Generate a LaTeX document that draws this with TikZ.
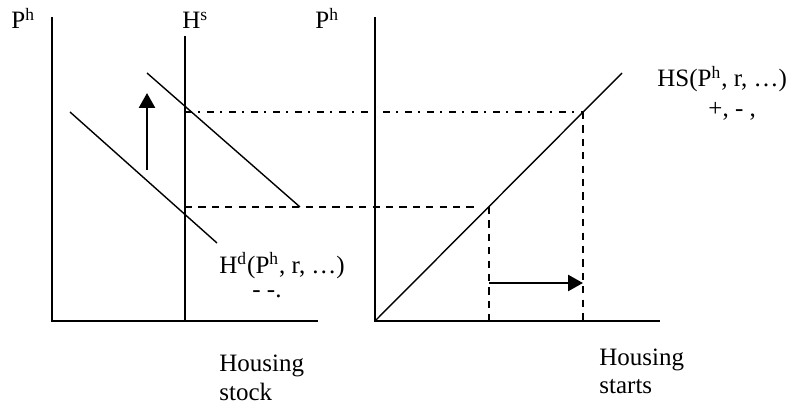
\documentclass[tikz,border=0pt]{standalone}
\usepackage{fontspec}
\setmainfont{Liberation Serif}
\usetikzlibrary{arrows.meta}
\begin{document}
\begin{tikzpicture}[x=0.5pt,y=-0.5pt,
  axis/.style={line width=1pt},
  curve/.style={line width=0.7pt},
  dashline/.style={line width=1pt, dash pattern=on 3.6pt off 3.1pt},
  dashdotline/.style={line width=0.9pt, dash pattern=on 3.5pt off 3pt on 1pt off 3.5pt},
  bigarrow/.style={line width=1.3pt, -{Triangle[width=8pt,length=7.5pt]}},
  lbl/.style={anchor=base west, inner sep=0, font=\fontsize{12.5}{15}\selectfont}]
\useasboundingbox (0,0) rectangle (786,406);
% coordinates
\coordinate (O1) at (52,321);
\coordinate (T1) at (52,17);
\coordinate (X1) at (318,321);
\coordinate (HsT) at (185,36);
\coordinate (HsB) at (185,321);
\coordinate (O2) at (375,321);
\coordinate (T2) at (375,17);
\coordinate (X2) at (660,321);
\coordinate (D1a) at (70,112);
\coordinate (D1b) at (217,243);
\coordinate (D2a) at (147,73);
\coordinate (D2b) at (300,207);
\coordinate (HSt) at (622,73);
\coordinate (E1) at (185,112);
\coordinate (E1r) at (583,112);
\coordinate (E1b) at (583,321);
\coordinate (E0) at (185,207);
\coordinate (E0e) at (476,207);
\coordinate (E0r) at (489,207);
\coordinate (E0b) at (489,321);
\coordinate (AUs) at (147,170);
\coordinate (AUe) at (147,93);
\coordinate (ARs) at (489,283);
\coordinate (ARe) at (583,283);
% axes
\draw[axis] (T1) -- (O1) -- (X1);
\draw[axis] (HsT) -- (HsB);
\draw[axis] (T2) -- (O2) -- (X2);
% demand curves
\draw[curve] (D1a) -- (D1b);
\draw[curve] (D2a) -- (D2b);
% supply of housing starts
\draw[curve] (O2) -- (HSt);
% guide lines
\draw[dashdotline] (E1) -- (E1r);
\draw[dashline] (E1r) -- (E1b);
\draw[dashline] (E0) -- (E0e);
\draw[dashline] (E0r) -- (E0b);
% arrows
\draw[bigarrow] (AUs) -- (AUe);
\draw[bigarrow] (ARs) -- (ARe);
% labels
\node[lbl] (ph1) at (11,29) {P\textsuperscript{h}};
\node[lbl] (hs) at (182,29) {H\textsuperscript{s}};
\node[lbl] (ph2) at (315,29) {P\textsuperscript{h}};
\node[lbl] (hsf) at (657,87) {HS(P\textsuperscript{h}, r, \dots)};
\node[lbl] (hssign) at (708,117) {+, - ,};
\node[lbl] (hdf) at (219,273) {H\textsuperscript{d}(P\textsuperscript{h}, r, \dots)};
\node[lbl] (hdsign) at (252,297) {- -.};
\node[lbl] (hstock1) at (219,371) {Housing};
\node[lbl] (hstock2) at (219,400) {stock};
\node[lbl] (hstart1) at (599,365) {Housing};
\node[lbl] (hstart2) at (599,393) {starts};
\end{tikzpicture}
\end{document}
